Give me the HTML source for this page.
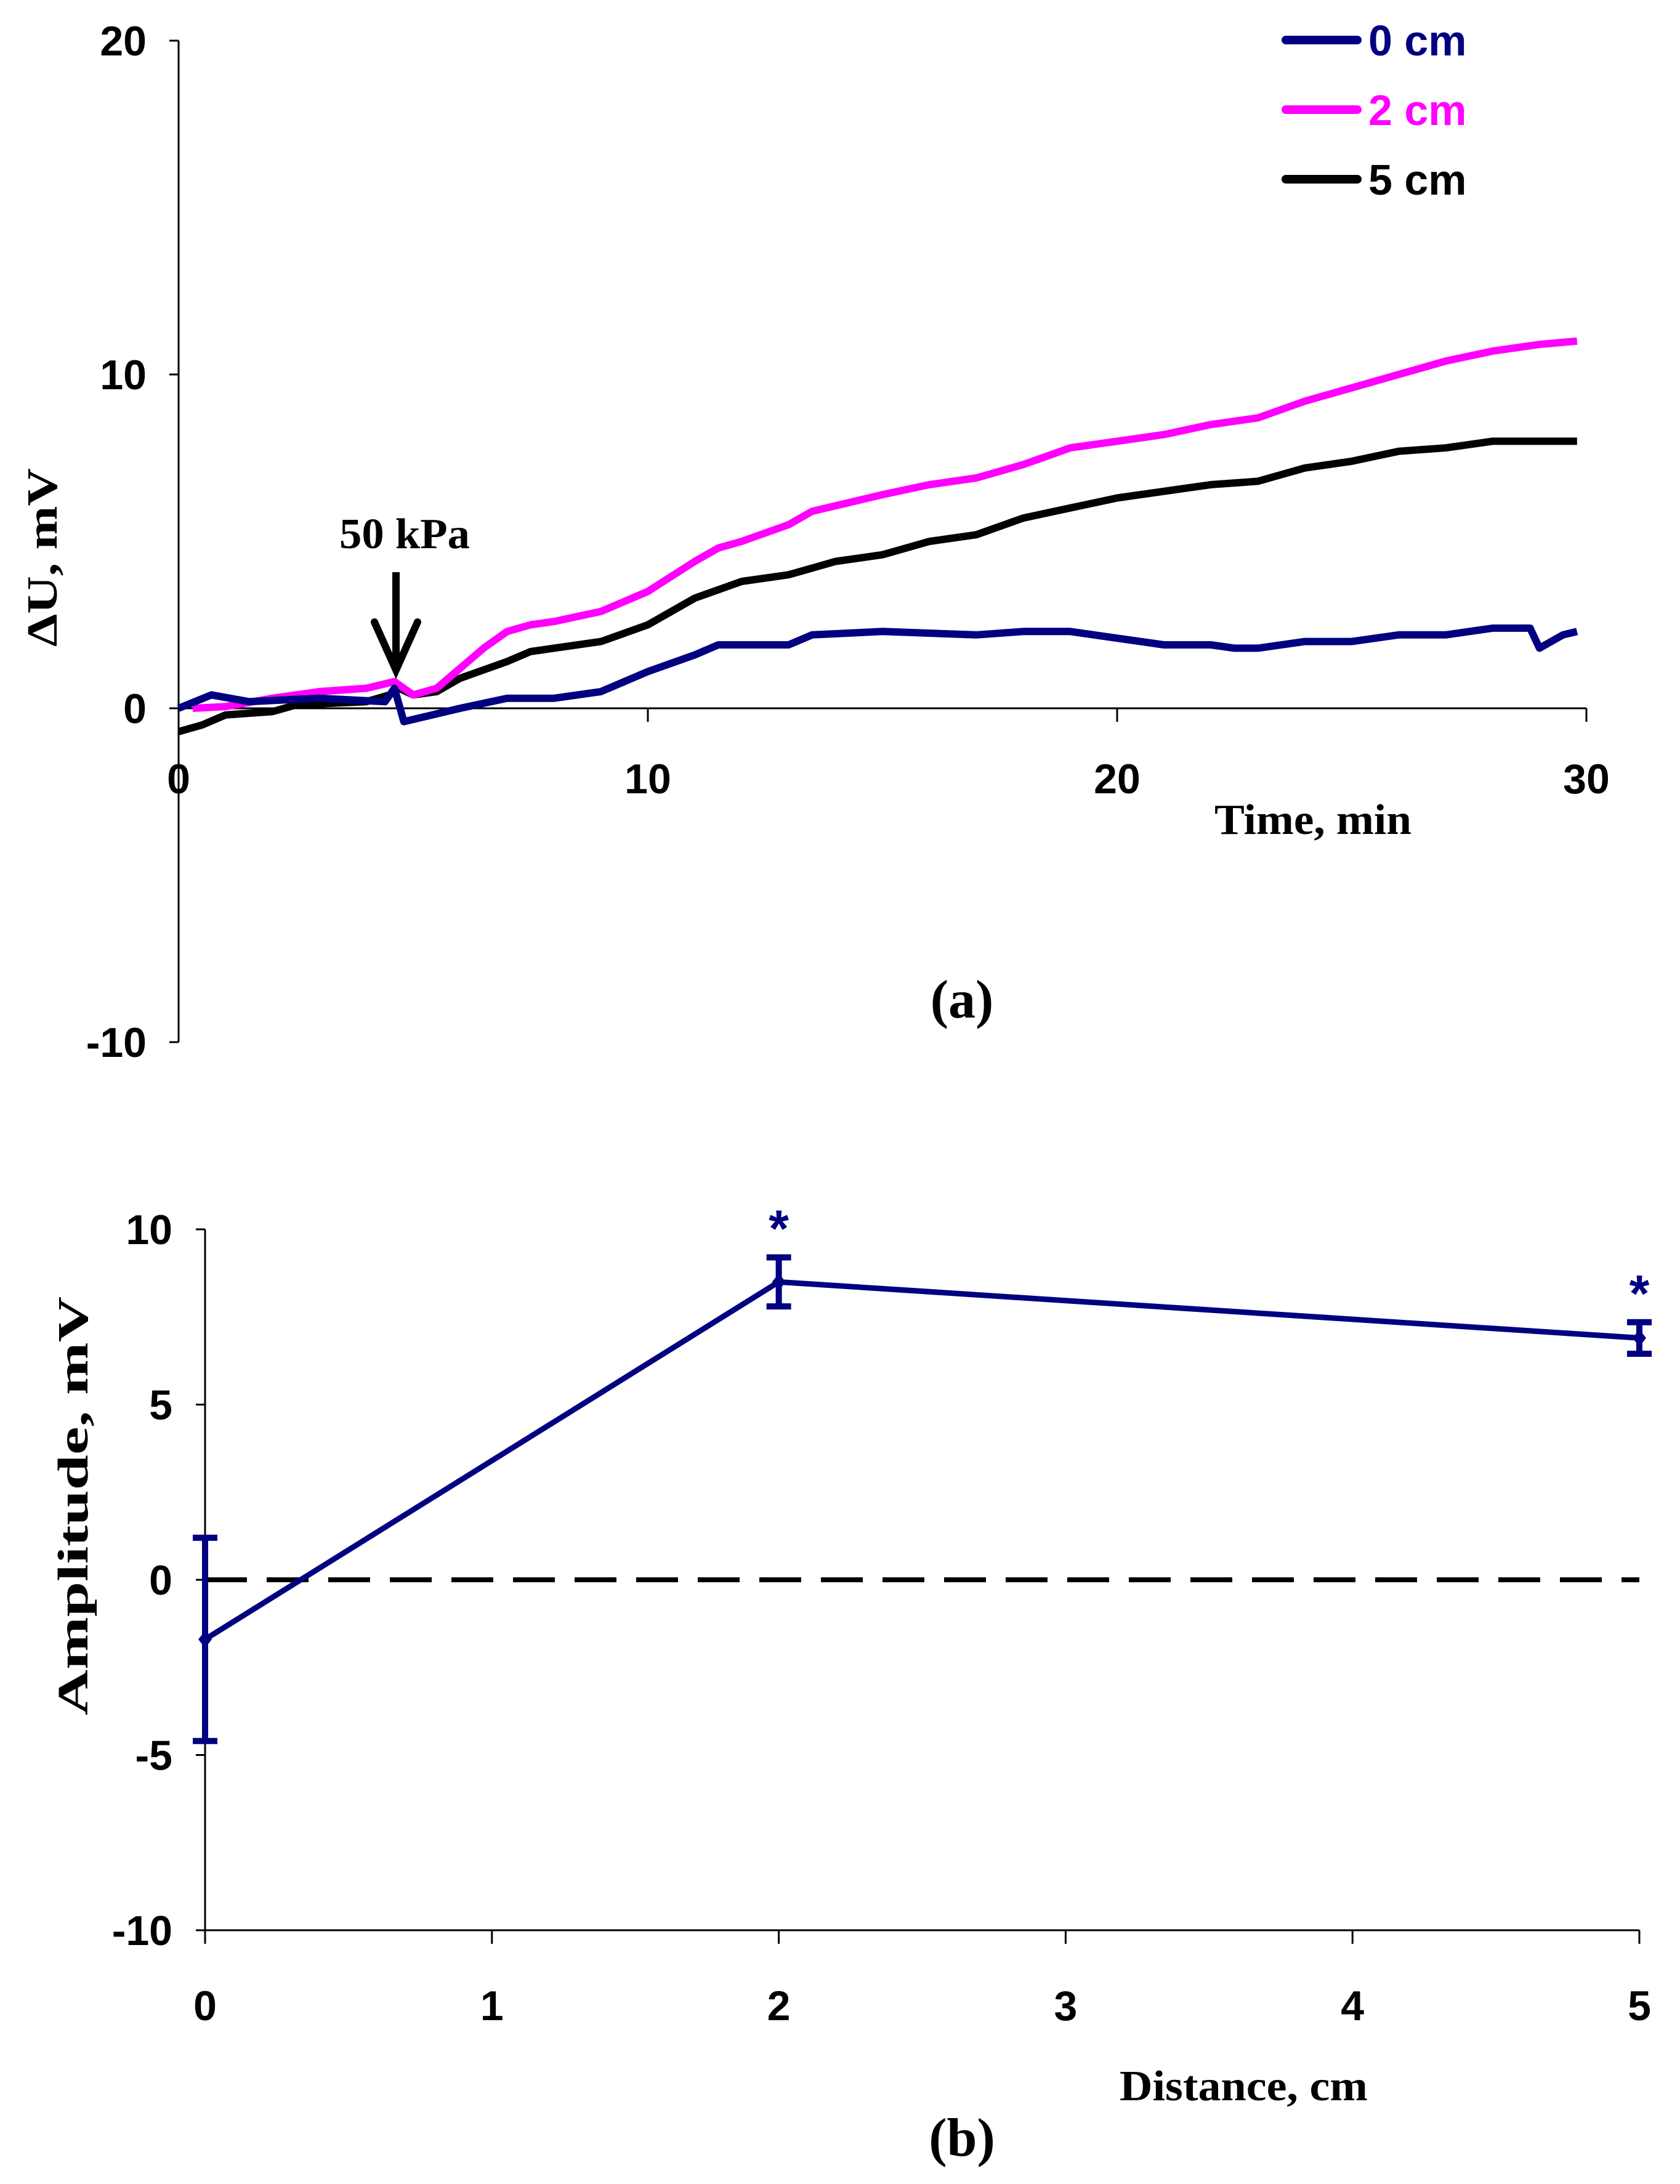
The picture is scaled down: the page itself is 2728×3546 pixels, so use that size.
<!DOCTYPE html>
<html><head><meta charset="utf-8"><style>
html,body{margin:0;padding:0;background:#fff;}
svg{display:block;}
.tick{font-family:"Liberation Sans",Arial,sans-serif;font-weight:bold;font-size:68px;fill:#000;}
.ttl{font-family:"Liberation Serif","Times New Roman",serif;font-weight:bold;font-size:70px;fill:#000;}
</style></head><body>
<svg id="fig" width="2728" height="3546" viewBox="0 0 2728 3546" xmlns="http://www.w3.org/2000/svg">
<g id="ca"></g>
<g id="cb"></g>
</svg>
<script>
// ---------- Chart (a) data ----------
const tBlue = [0,0.7,1.5,3,4.4,4.6,4.8,6,7,8,9,10,11,11.5,13,13.5,15,17,18,19,20,21,22,22.5,23,24,25,26,27,28,28.8,29,29.5,29.8];
const vBlue = [0,0.4,0.2,0.3,0.2,0.6,-0.4,0,0.3,0.3,0.5,1.1,1.6,1.9,1.9,2.2,2.3,2.2,2.3,2.3,2.1,1.9,1.9,1.8,1.8,2.0,2.0,2.2,2.2,2.4,2.4,1.8,2.2,2.3];
const tPink = [0.3,1,2,3,4,4.6,5,5.5,6,6.5,7,7.5,8,9,10,11,11.5,12,13,13.5,15,16,17,18,19,20,21,22,23,24,25,26,27,28,29,29.8];
const vPink = [0,0.05,0.3,0.5,0.6,0.8,0.4,0.6,1.2,1.8,2.3,2.5,2.6,2.9,3.5,4.4,4.8,5.0,5.5,5.9,6.4,6.7,6.9,7.3,7.8,8.0,8.2,8.5,8.7,9.2,9.6,10.0,10.4,10.7,10.9,11.0];
const tBlack = [0,0.5,1,2,2.5,4,4.5,4.7,5,5.5,6,7,7.5,8,9,10,11,12,13,13.5,14,15,16,17,18,19,20,21,22,23,24,25,26,27,28,29,29.8];
const vBlack = [-0.7,-0.5,-0.2,-0.1,0.1,0.2,0.4,0.6,0.4,0.5,0.9,1.4,1.7,1.8,2.0,2.5,3.3,3.8,4.0,4.2,4.4,4.6,5.0,5.2,5.7,6.0,6.3,6.5,6.7,6.8,7.2,7.4,7.7,7.8,8.0,8.0,8.0];
const aXTicks = [0,10,20,30];
const aYTicks = [20,10,0,-10];
const legendLabels = ["0 cm","2 cm","5 cm"];
// ---------- Chart (b) data ----------
const bDist = [0,2,5];
const bAmp = [-1.7,8.5,6.9];
const bErrHi = [2.9,0.7,0.45];
const bErrLo = [2.9,0.7,0.45];
const bXTicks = [0,1,2,3,4,5];
const bYTicks = [10,5,0,-5,-10];

const NS="http://www.w3.org/2000/svg";
function mk(parent,tag,attrs,text){const e=document.createElementNS(NS,tag);for(const k in attrs)e.setAttribute(k,attrs[k]);if(text!==undefined)e.textContent=text;parent.appendChild(e);return e;}

// ---------- Chart (a) ----------
const ca=document.getElementById('ca');
const ax=t=>290+t*(2576-290)/30;
const ay=v=>1150-v*(1150-608)/10;
let e;
e=mk(ca,'line',{x1:290,y1:ay(20),x2:290,y2:ay(-10),stroke:'#000','stroke-width':3});


e=mk(ca,'line',{x1:290,y1:ay(0),x2:ax(30),y2:ay(0),stroke:'#000','stroke-width':3});


aYTicks.forEach(v=>{
  mk(ca,'line',{x1:275,y1:ay(v),x2:290,y2:ay(v),stroke:'#000','stroke-width':3});
  e=mk(ca,'text',{x:238,y:ay(v)+24,'text-anchor':'end',class:'tick'},String(v));
  
  
});
aXTicks.forEach(t=>{
  mk(ca,'line',{x1:ax(t),y1:ay(0),x2:ax(t),y2:ay(0)+22,stroke:'#000','stroke-width':3});
  e=mk(ca,'text',{x:ax(t),y:1288,'text-anchor':'middle',class:'tick'},String(t));
  
  
});
function series(ts,vs,color,name){
  const d=ts.map((t,i)=>(i?'L':'M')+ax(t).toFixed(1)+','+ay(vs[i]).toFixed(1)).join(' ');
  const p=mk(ca,'path',{d:d,fill:'none',stroke:color,'stroke-width':12,'stroke-linejoin':'round'});
  
  
}
series(tBlack,vBlack,'#000000','series-5cm');
series(tPink,vPink,'#ff00ff','series-2cm');
series(tBlue,vBlue,'#000080','series-0cm');
const legColors=['#000080','#ff00ff','#000000'];
legendLabels.forEach((lab,i)=>{
  const y=65+i*113;
  e=mk(ca,'line',{x1:2088,y1:y,x2:2204,y2:y,stroke:legColors[i],'stroke-width':14,'stroke-linecap':'round'});
  
  
  e=mk(ca,'text',{x:2222,y:y+25,class:'tick',style:'font-size:70px;fill:'+legColors[i]},lab);
  
  
});
e=mk(ca,'text',{x:1972,y:1354,class:'ttl',textLength:320,lengthAdjust:'spacingAndGlyphs'},'Time, min');


e=mk(ca,'text',{x:0,y:0,class:'ttl','text-anchor':'middle',textLength:290,lengthAdjust:'spacingAndGlyphs',transform:'translate(92,905) rotate(-90)'},'ΔU, mV');


e=mk(ca,'text',{x:657,y:890,class:'ttl','text-anchor':'middle',textLength:212,lengthAdjust:'spacingAndGlyphs'},'50 kPa');


e=mk(ca,'g',{});


mk(e,'line',{x1:643,y1:929,x2:643,y2:1080,stroke:'#000','stroke-width':12});
mk(e,'polyline',{points:'608,1010 643,1088 678,1010',fill:'none',stroke:'#000','stroke-width':12,'stroke-linecap':'round'});
e=mk(ca,'text',{x:1562,y:1652,class:'ttl','text-anchor':'middle',style:'font-size:88px'},'(a)');



// ---------- Chart (b) ----------
const cb=document.getElementById('cb');
const bx=d=>333+d*(2662-333)/5;
const by=v=>2565-v*(2565-1996)/10;
e=mk(cb,'line',{x1:333,y1:by(10),x2:333,y2:by(-10),stroke:'#000','stroke-width':3});


e=mk(cb,'line',{x1:333,y1:by(-10),x2:bx(5),y2:by(-10),stroke:'#000','stroke-width':3});


bYTicks.forEach(v=>{
  mk(cb,'line',{x1:318,y1:by(v),x2:333,y2:by(v),stroke:'#000','stroke-width':3});
  e=mk(cb,'text',{x:280,y:by(v)+24,'text-anchor':'end',class:'tick'},String(v));
  
  
});
bXTicks.forEach(d=>{
  mk(cb,'line',{x1:bx(d),y1:by(-10),x2:bx(d),y2:by(-10)+22,stroke:'#000','stroke-width':3});
  e=mk(cb,'text',{x:bx(d),y:3280,'text-anchor':'middle',class:'tick'},String(d));
  
  
});
e=mk(cb,'line',{x1:333,y1:by(0),x2:bx(5),y2:by(0),stroke:'#000','stroke-width':8,'stroke-dasharray':'68 32'});


e=mk(cb,'polyline',{points:bDist.map((d,i)=>bx(d)+','+by(bAmp[i])).join(' '),fill:'none',stroke:'#000080','stroke-width':9});


bDist.forEach((d,i)=>{
  const x=bx(d),hi=by(bAmp[i]+bErrHi[i]),lo=by(bAmp[i]-bErrLo[i]);
  const g=mk(cb,'g',{stroke:'#000080','stroke-width':10});
  
  
  mk(g,'line',{x1:x,y1:hi,x2:x,y2:lo});
  mk(g,'line',{x1:x-20,y1:hi,x2:x+20,y2:hi});
  mk(g,'line',{x1:x-20,y1:lo,x2:x+20,y2:lo});
  e=mk(cb,'path',{d:`M${x},${by(bAmp[i])-14} L${x+11},${by(bAmp[i])} L${x},${by(bAmp[i])+14} L${x-11},${by(bAmp[i])} Z`,fill:'#000080'});
  
  
  if(i>0){
    e=mk(cb,'text',{x:x,y:hi-18,'text-anchor':'middle',class:'tick',style:'fill:#000080;font-size:84px'},'*');
    
    
  }
});
e=mk(cb,'text',{x:1818,y:3410,class:'ttl',textLength:403,lengthAdjust:'spacingAndGlyphs'},'Distance, cm');


e=mk(cb,'text',{x:0,y:0,class:'ttl','text-anchor':'middle',textLength:680,lengthAdjust:'spacingAndGlyphs',transform:'translate(142,2445) rotate(-90)'},'Amplitude, mV');


e=mk(cb,'text',{x:1562,y:3500,class:'ttl','text-anchor':'middle',style:'font-size:88px'},'(b)');


</script>
</body></html>
